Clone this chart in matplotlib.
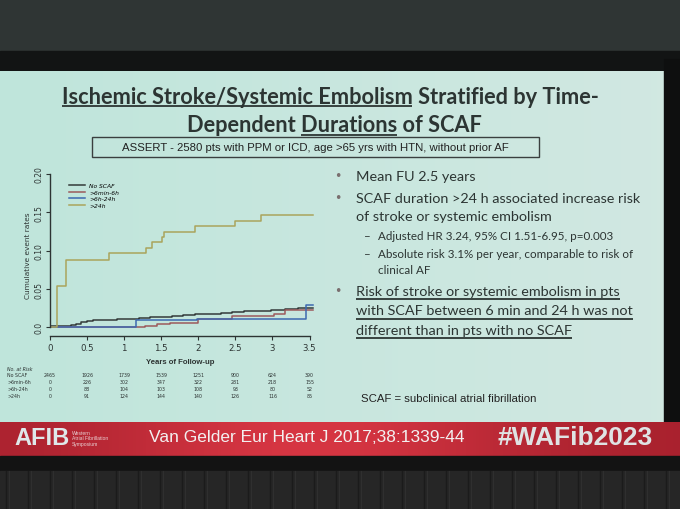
import numpy as np
import matplotlib.pyplot as plt
from matplotlib.patches import Rectangle
from matplotlib.transforms import blended_transform_factory

# curves (step functions, time in years)
t_none = [0, 0.28, 0.35, 0.42, 0.50, 0.58, 0.75, 0.90, 1.05, 1.20, 1.35, 1.50, 1.65,
          1.80, 1.95, 2.10, 2.30, 2.45, 2.62, 2.80, 2.98, 3.17, 3.35, 3.55]
y_none = [0.002, 0.003, 0.005, 0.007, 0.008, 0.0095, 0.010, 0.011, 0.0115, 0.012, 0.013,
          0.014, 0.015, 0.016, 0.017, 0.018, 0.019, 0.020, 0.021, 0.022, 0.023, 0.024,
          0.025, 0.025]
t_short = [0, 1.28, 1.44, 1.62, 2.00, 2.45, 3.02, 3.17, 3.55]
y_short = [0.001, 0.002, 0.004, 0.006, 0.011, 0.0145, 0.018, 0.0225, 0.0225]
t_mid = [0, 1.16, 1.98, 3.45, 3.55]
y_mid = [0.001, 0.010, 0.011, 0.029, 0.029]
t_long = [0, 0.10, 0.21, 0.79, 1.30, 1.38, 1.51, 1.54, 1.96, 2.50, 2.85, 3.55]
y_long = [0.0, 0.054, 0.088, 0.097, 0.104, 0.112, 0.118, 0.125, 0.132, 0.139, 0.147, 0.147]

groups = ["No SCAF", ">6min-6h", ">6h-24h", ">24h"]
colors = ["#343b3a", "#9c5a5c", "#3d69b0", "#aaa45c"]

risk_times = [0, 0.5, 1, 1.5, 2, 2.5, 3, 3.5]
risk_none = [2465, 1926, 1739, 1539, 1251, 900, 624, 390]
risk_short = [0, 226, 302, 347, 322, 281, 218, 155]
risk_mid = [0, 88, 104, 103, 108, 93, 80, 52]
risk_long = [0, 91, 124, 144, 140, 126, 116, 85]

bullets = [
    (1, "Mean FU 2.5 years", 177),
    (1, "SCAF duration >24 h associated increase risk", 199),
    (0, "of stroke or systemic embolism", 217),
    (2, "Adjusted HR 3.24, 95% CI 1.51-6.95, p=0.003", 237),
    (2, "Absolute risk 3.1% per year, comparable to risk of", 255),
    (3, "clinical AF", 271),
]
underlined = ["Risk of stroke or systemic embolism in pts",
              "with SCAF between 6 min and 24 h was not",
              "different than in pts with no SCAF"]

ink = "#2c3533"

fig = plt.figure(figsize=(6.8, 5.1), dpi=100)
bg = fig.add_axes([0, 0, 1, 1])
bg.set_xlim(0, 680)
bg.set_ylim(510, 0)
bg.axis("off")

# room: wall, screen frame, slide, banner, curtain
bg.add_patch(Rectangle((0, 0), 680, 510, color="#2f3534", zorder=0))
bg.add_patch(Rectangle((0, 52), 680, 22, color="#121414", zorder=0))
grad = np.linspace(0, 1, 200)
slide_rgb = np.array([[0.75, 0.90, 0.86]]) * (1 - grad[:, None]) + np.array([[0.82, 0.91, 0.885]]) * grad[:, None]
bg.imshow(slide_rgb[None, :, :], extent=(0, 664, 423, 72), aspect="auto", zorder=1)
bg.add_patch(Rectangle((664, 60), 16, 365, color="#0e0f0f", zorder=1))
glow = np.exp(-((grad - 0.45) / 0.3) ** 2)
banner_rgb = np.stack([0.66 + 0.18 * glow, 0.13 + 0.08 * glow, 0.18 + 0.08 * glow], axis=1)
bg.imshow(banner_rgb[None, :, :], extent=(0, 680, 457, 423), aspect="auto", zorder=1)
bg.add_patch(Rectangle((0, 457), 680, 53, color="#131313", zorder=1))
bg.add_patch(Rectangle((0, 472), 680, 38, color="#262626", zorder=1))
for xf in np.arange(6, 680, 22):
    bg.plot([xf, xf], [472, 510], color="#1b1b1b", lw=1.0, zorder=2)
    bg.plot([xf + 3, xf + 3], [472, 510], color="#2f2f2f", lw=0.8, zorder=2)

# title with underlines
def underline(txt, parts, y, size, weight):
    fig.canvas.draw()
    r = fig.canvas.get_renderer()
    ext = txt.get_window_extent(r)
    x0 = ext.x0
    if parts is None:
        a, b = x0, ext.x1
    else:
        pre, word = parts
        tmp = bg.text(0, 0, pre + word, fontsize=size, weight=weight, family="Lato")
        tw = bg.text(0, 0, word, fontsize=size, weight=weight, family="Lato")
        w1 = tmp.get_window_extent(r).width
        w2 = tw.get_window_extent(r).width
        tmp.remove()
        tw.remove()
        a, b = x0 + w1 - w2, x0 + w1
    bg.plot([a, b], [y, y], color=ink, lw=1.3, zorder=5, solid_capstyle="butt")

t1 = bg.text(330, 97, "Ischemic Stroke/Systemic Embolism Stratified by Time-", fontsize=15.7,
             weight="bold", family="Lato", color=ink, ha="center", va="center", zorder=5)
t2 = bg.text(334, 126, "Dependent Durations of SCAF", fontsize=15.7,
             weight="bold", family="Lato", color=ink, ha="center", va="center", zorder=5)
underline(t1, ("", "Ischemic Stroke/Systemic Embolism"), 107, 15.7, "bold")
underline(t2, ("Dependent ", "Durations"), 136, 15.7, "bold")

bg.add_patch(Rectangle((92, 138), 447, 20, fill=False, ec="#3a3f3f", lw=1.0, zorder=5))
bg.text(315, 148.5, "ASSERT - 2580 pts with PPM or ICD, age >65 yrs with HTN, without prior AF",
        fontsize=8.2, family="Liberation Sans", color="#222", ha="center", va="center", zorder=6)

# right hand bullets
big, small = 10.4, 8.4
for level, line, y in bullets:
    if level == 1:
        bg.text(338, y, "•", fontsize=9, color="#7a6f6f", ha="center", va="center", zorder=5)
    if level == 2:
        bg.text(367, y, "–", fontsize=small, family="Lato", color=ink, ha="center", va="center", zorder=5)
    if level in (0, 1):
        bg.text(356, y, line, fontsize=big, family="Lato", color=ink, va="center", zorder=5)
    else:
        bg.text(378, y, line, fontsize=small, family="Lato", color=ink, va="center", zorder=5)

bg.text(338, 292, "•", fontsize=9, color="#7a6f6f", ha="center", va="center", zorder=5)
for i, line in enumerate(underlined):
    y = 292 + i * 19.5
    tt = bg.text(356, y, line, fontsize=big, family="Lato", color=ink, va="center", zorder=5)
    underline(tt, None, y + 8, big, "normal")

bg.text(361, 399, "SCAF = subclinical atrial fibrillation", fontsize=8.2,
        family="Liberation Sans", color="#222", va="center", zorder=5)

# banner texts
bg.text(42, 439, "AFIB", fontsize=17, weight="bold", family="Liberation Sans",
        color="#dfe8ea", ha="center", va="center", zorder=5)
bg.text(72, 439, "Western\nAtrial Fibrillation\nSymposium", fontsize=3.6, family="Liberation Sans",
        color="#e9cfd2", va="center", linespacing=1.2, zorder=5)
bg.text(307, 438, "Van Gelder Eur Heart J 2017;38:1339-44", fontsize=12.5,
        family="Liberation Sans", color="#f3f0f0", ha="center", va="center", zorder=5)
bg.text(575, 438, "#WAFib2023", fontsize=19, weight="bold", family="Liberation Sans",
        color="#dfe3e4", ha="center", va="center", zorder=5)

# Kaplan-Meier plot
ax = fig.add_axes([50 / 680, 1 - 337 / 510, 264 / 680, 162 / 510])
ax.set_xlim(0, 3.56)
ax.set_ylim(-0.0112, 0.2)
ax.patch.set_alpha(0)
series = [(t_none, y_none), (t_short, y_short), (t_mid, y_mid), (t_long, y_long)]
for (t, y), name, c in zip(series, groups, colors):
    ax.step(t, y, where="post", color=c, lw=1.1, label=name)
for s in ["top", "right"]:
    ax.spines[s].set_visible(False)
ax.spines["left"].set_bounds(0, 0.2)
ax.spines["bottom"].set_bounds(0, 3.5)
for s in ["left", "bottom"]:
    ax.spines[s].set_color("#2d3433")
    ax.spines[s].set_linewidth(1.0)
ax.set_xticks(risk_times)
ax.set_xticklabels(["0", "0.5", "1", "1.5", "2", "2.5", "3", "3.5"])
ax.set_yticks([0, 0.05, 0.10, 0.15, 0.20])
ax.set_yticklabels(["0.0", "0.05", "0.10", "0.15", "0.20"], rotation=90, va="center")
ax.tick_params(axis="x", labelsize=6.2, length=3, width=0.8, pad=2, colors="#2d3433")
ax.tick_params(axis="y", labelsize=5.5, length=3, width=0.8, pad=2, colors="#2d3433")
ax.set_ylabel("Cumulative event rates", fontsize=5.3, color="#2d3433", labelpad=2)
ax.legend(loc="upper left", bbox_to_anchor=(66 / 680, 1 - 181 / 510), bbox_transform=fig.transFigure,
          frameon=False, prop={"size": 4.3, "style": "italic"}, handlelength=2.6,
          labelspacing=0.22, borderpad=0, handletextpad=0.8)

tr = blended_transform_factory(ax.transData, bg.transData)
bg.text(180, 363, "Years of Follow-up", fontsize=5.6, weight="bold", family="Liberation Sans",
        color="#2d3433", ha="center", va="center", zorder=5)
bg.text(7, 370, "No. at Risk", fontsize=3.4, style="italic", color="#2d3433", va="center", zorder=5)
rows = [risk_none, risk_short, risk_mid, risk_long]
for i, (name, row) in enumerate(zip(groups, rows)):
    y = 376 + i * 7
    bg.text(7, y, name, fontsize=3.4, color="#2d3433", va="center", zorder=5)
    for t, n in zip(risk_times, row):
        ax.text(t, y, str(n), transform=tr, fontsize=3.4, color="#2d3433",
                ha="center", va="center", clip_on=False)

fig.savefig("out.png", dpi=100)
